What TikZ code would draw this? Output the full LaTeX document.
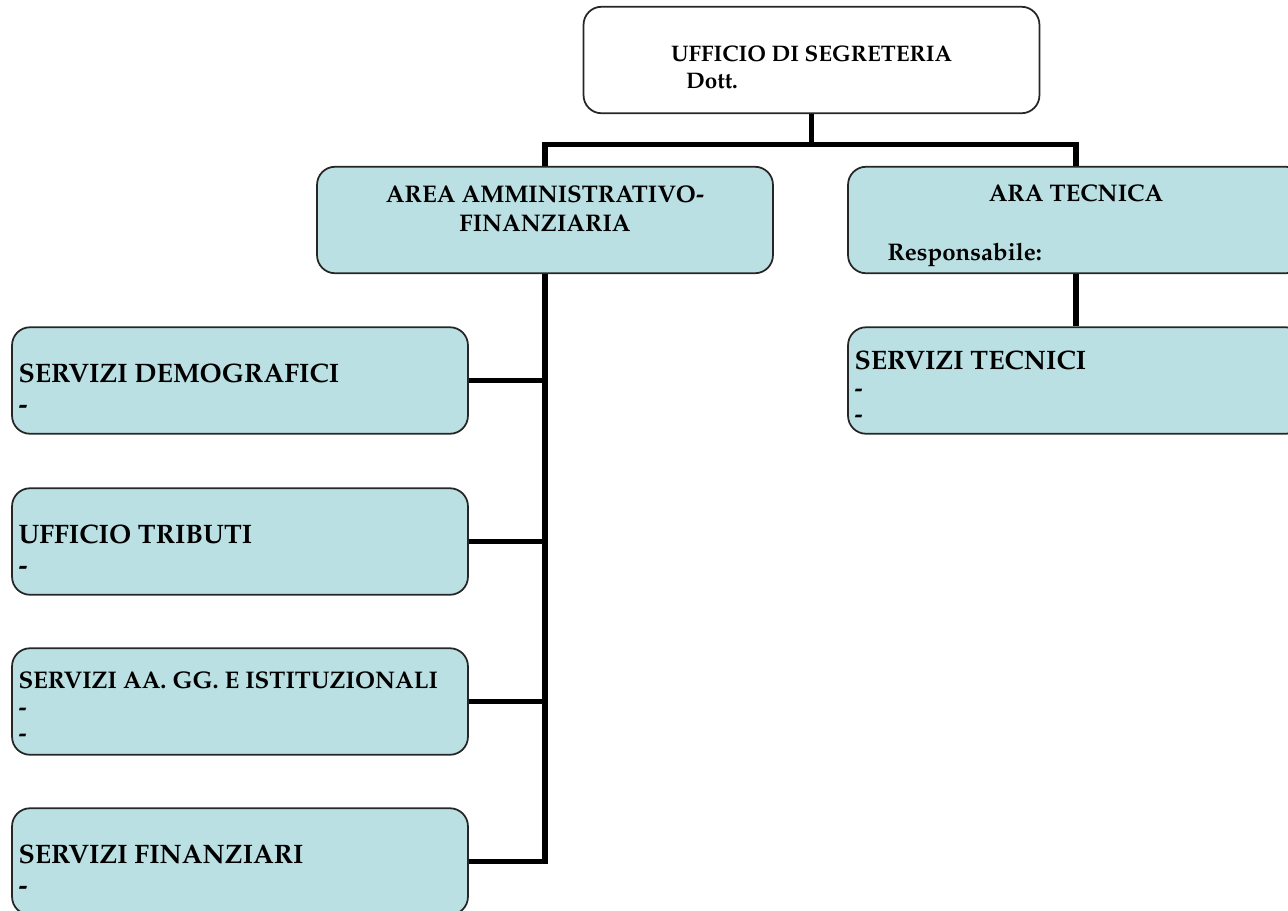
\documentclass[tikz,border=0pt]{standalone}
\usepackage[T1]{fontenc}
\usepackage{mathpazo}
\usetikzlibrary{positioning,calc}
\definecolor{boxblue}{RGB}{186,224,227}

\begin{document}
\begin{tikzpicture}[x=0.02cm,y=-0.02cm,
		unit/.style={draw=black!85, line width=1pt, rounded corners=0.36cm, minimum width=9.12cm, minimum height=2.13cm, inner sep=0pt},
		area/.style={unit, fill=boxblue},
		link/.style={line width=2.9pt, black},
		txt/.style={anchor=base west, inner sep=0pt, font=\bfseries\fontsize{15.2}{18}\selectfont},
		small/.style={txt, font=\bfseries\fontsize{13.7}{16}\selectfont}]
	% Frame
	\useasboundingbox (0,0) rectangle (1288,910);
	\clip (0,0) rectangle (1288,910);
	% Top office
	\node[unit, fill=white] (segr) at (811.5,60) {};
	\node[small, font=\bfseries\fontsize{12.8}{15}\selectfont] (segr-t) at ($(segr.north west)+(88,56)$) {UFFICIO DI SEGRETERIA};
	\node[small, font=\bfseries\fontsize{12.8}{15}\selectfont] (segr-d) at ($(segr.north west)+(103,83)$) {Dott.};
	% Areas
	\node[area] (amm) at (545,220) {};
	\node[small, anchor=base] (amm-t) at ($(amm.north)+(0,37)$) {AREA AMMINISTRATIVO-};
	\node[small, anchor=base] (amm-u) at ($(amm.north)+(0,66)$) {FINANZIARIA};
	\node[area] (tec) at (1076,220) {};
	\node[small, anchor=base] (tec-t) at ($(tec.north)+(0,36)$) {ARA TECNICA};
	\node[small] (tec-r) at ($(tec.north west)+(40,95)$) {Responsabile:};
	% Services
	\node[area] (dem) at (240,380.5) {};
	\node[txt] (dem-t) at ($(dem.north west)+(7,56)$) {SERVIZI DEMOGRAFICI};
	\node[txt] (dem-a) at ($(dem.north west)+(7,87)$) {-};
	\node[area] (trib) at (240,541.5) {};
	\node[txt] (trib-t) at ($(trib.north west)+(7,56)$) {UFFICIO TRIBUTI};
	\node[txt] (trib-a) at ($(trib.north west)+(7,87)$) {-};
	\node[area] (aagg) at (240,701.5) {};
	\node[small] (aagg-t) at ($(aagg.north west)+(7,41)$) {SERVIZI AA. GG. E ISTITUZIONALI};
	\node[small] (aagg-a) at ($(aagg.north west)+(7,68)$) {-};
	\node[small] (aagg-b) at ($(aagg.north west)+(7,94)$) {-};
	\node[area] (fin) at (240,861.5) {};
	\node[txt] (fin-t) at ($(fin.north west)+(7,56)$) {SERVIZI FINANZIARI};
	\node[txt] (fin-a) at ($(fin.north west)+(7,87)$) {-};
	\node[area] (tecs) at (1076,380.5) {};
	\node[txt] (tecs-t) at ($(tecs.north west)+(7,43)$) {SERVIZI TECNICI};
	\node[small] (tecs-a) at ($(tecs.north west)+(7,70)$) {-};
	\node[small] (tecs-b) at ($(tecs.north west)+(7,96)$) {-};
	% Connectors
	\coordinate (split) at ($(segr.south)+(0,30)$);
	\draw[link] (segr.south) -- (split);
	\draw[link] (amm.north) |- (split) -| (tec.north);
	\draw[link] (amm.south) |- (fin.east);
	\foreach \n in {dem,trib,aagg}
		\draw[link] (\n.east) -- (\n.east -| amm.south);
	\draw[link] (tec.south) -- (tecs.north);
\end{tikzpicture}
\end{document}
